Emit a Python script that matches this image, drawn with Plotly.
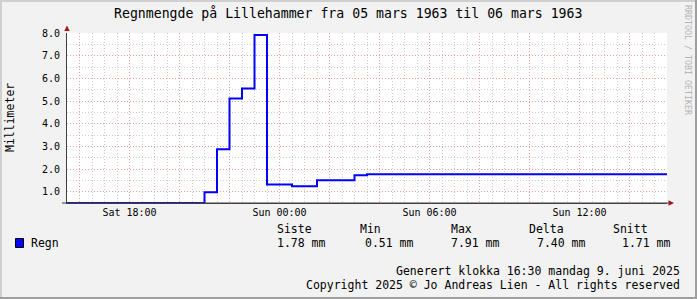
import plotly.graph_objects as go
import pandas as pd

# ---------------- data ----------------
times = ["1963-03-02 15:30", "1963-03-02 21:00", "1963-03-02 21:30", "1963-03-02 22:00",
         "1963-03-02 22:30", "1963-03-02 23:00", "1963-03-02 23:30", "1963-03-03 00:30",
         "1963-03-03 01:30", "1963-03-03 03:00", "1963-03-03 03:30", "1963-03-03 15:30"]
regn = [0.51, 0.98, 2.88, 5.11, 5.55, 7.91, 1.33, 1.25, 1.51, 1.73, 1.78, 1.78]

stat_names = ["Siste", "Min", "Max", "Delta", "Snitt"]
stat_values = [1.78, 0.51, 7.91, 7.40, 1.71]

y_ticks = [1, 2, 3, 4, 5, 6, 7, 8]
x_start, x_end = "1963-03-02 15:30", "1963-03-03 15:30"

title = "Regnmengde på Lillehammer fra 05 mars 1963 til 06 mars 1963"
footer1 = "Generert klokka 16:30 mandag 9. juni 2025"
footer2 = "Copyright 2025 © Jo Andreas Lien - All rights reserved"

# ---------------- layout geometry ----------------
W, H = 697, 299
L, R, T, B = 67, 667, 33, 203
FONT = "DejaVu Sans Mono"


def px(x):
    return (x - L) / (R - L)


def py(y):
    return (B - y) / (B - T)


major_x = pd.date_range("1963-03-02 16:00", "1963-03-03 14:00", freq="2h")
major_text = [d.strftime("%a %H:%M") if d.hour % 6 == 0 else "" for d in major_x]

fig = go.Figure()
fig.add_trace(go.Scatter(x=times, y=regn, mode="lines", line=dict(color="#0000ff", width=2, shape="hv"),
                         hoverinfo="skip", showlegend=False))

grid_major = "rgb(236,160,160)"
grid_minor = "rgb(205,205,205)"

fig.update_layout(
    width=W, height=H,
    margin=dict(l=L, r=W - R, t=T, b=H - B, pad=0),
    paper_bgcolor="#f2f2f2", plot_bgcolor="#ffffff",
    showlegend=False,
    font=dict(family=FONT, color="#000000", size=10),
    xaxis=dict(type="date", range=[x_start, x_end], tickmode="array",
               tickvals=list(major_x), ticktext=major_text,
               showgrid=True, gridcolor=grid_major, griddash="1px,2px", gridwidth=1,
               minor=dict(tick0="1963-03-02 15:30", dtick=1800000, showgrid=True,
                          gridcolor=grid_minor, griddash="1px,2px", gridwidth=1),
               showline=True, linecolor="#404040", linewidth=1, zeroline=False,
               ticks="", ticklabelstandoff=0, tickfont=dict(size=10, family=FONT)),
    yaxis=dict(range=[0.51, 8.0], tickmode="array", tickvals=y_ticks, tickformat=".1f",
               showgrid=True, gridcolor=grid_major, griddash="1px,2px", gridwidth=1,
               minor=dict(tick0=0.5, dtick=0.5, showgrid=True,
                          gridcolor=grid_minor, griddash="1px,2px", gridwidth=1),
               showline=True, linecolor="#404040", linewidth=1, zeroline=False,
               ticks="", ticklabelstandoff=4, tickfont=dict(size=10, family=FONT)),
)

shapes = []
# frame (3D border)
shapes.append(dict(type="rect", xref="paper", yref="paper", x0=px(0), x1=px(2), y0=py(299), y1=py(0),
                   fillcolor="#cfcfcf", line=dict(width=0)))
shapes.append(dict(type="rect", xref="paper", yref="paper", x0=px(0), x1=px(697), y0=py(2), y1=py(0),
                   fillcolor="#cfcfcf", line=dict(width=0)))
shapes.append(dict(type="rect", xref="paper", yref="paper", x0=px(695), x1=px(697), y0=py(299), y1=py(0),
                   fillcolor="#9e9e9e", line=dict(width=0)))
shapes.append(dict(type="rect", xref="paper", yref="paper", x0=px(0), x1=px(697), y0=py(299), y1=py(297),
                   fillcolor="#9e9e9e", line=dict(width=0)))
# axis extensions
shapes.append(dict(type="line", xref="paper", yref="paper", x0=px(62), x1=px(669), y0=py(203), y1=py(203),
                   line=dict(color="#404040", width=1)))
# arrows
arrow_col = "#a01818"
shapes.append(dict(type="path", xref="paper", yref="paper",
                   path=f"M {px(64.3)},{py(31)} L {px(69.7)},{py(31)} L {px(67)},{py(25.5)} Z",
                   fillcolor=arrow_col, line=dict(width=0)))
shapes.append(dict(type="path", xref="paper", yref="paper",
                   path=f"M {px(668.5)},{py(200.3)} L {px(668.5)},{py(205.7)} L {px(674)},{py(203)} Z",
                   fillcolor=arrow_col, line=dict(width=0)))
# legend square
shapes.append(dict(type="rect", xref="paper", yref="paper", x0=px(15.5), x1=px(23.5), y0=py(247.5), y1=py(238.5),
                   fillcolor="#0000ff", line=dict(color="#000000", width=1)))
fig.update_layout(shapes=shapes)


def text(x, y, s, size=11.5, xanchor="left", color="#000000", angle=0):
    fig.add_annotation(xref="paper", yref="paper", x=px(x), y=py(y), text=s, showarrow=False,
                       xanchor=xanchor, yanchor="middle", textangle=angle, borderpad=0,
                       font=dict(family=FONT, size=size, color=color))


text(347.5, 13, title, size=13.2, xanchor="center")
text(10, 118, "Millimeter", size=11.5, xanchor="center", angle=-90)
text(688, 60, "RRDTOOL / TOBI OETIKER", size=8.3, xanchor="center", color="#b4b4b4", angle=90)

head_x = [275.5, 359, 450, 527.5, 612]
val_x = [276, 363.5, 450, 535.5, 621]
for hx, name in zip(head_x, stat_names):
    text(hx, 229, name)
text(30, 243, "Regn")
for vx, v in zip(val_x, stat_values):
    text(vx, 243, f"{v:.2f} mm")

text(681, 271, footer1, xanchor="right")
text(681, 285, footer2, xanchor="right")

fig.write_html("out.html")
